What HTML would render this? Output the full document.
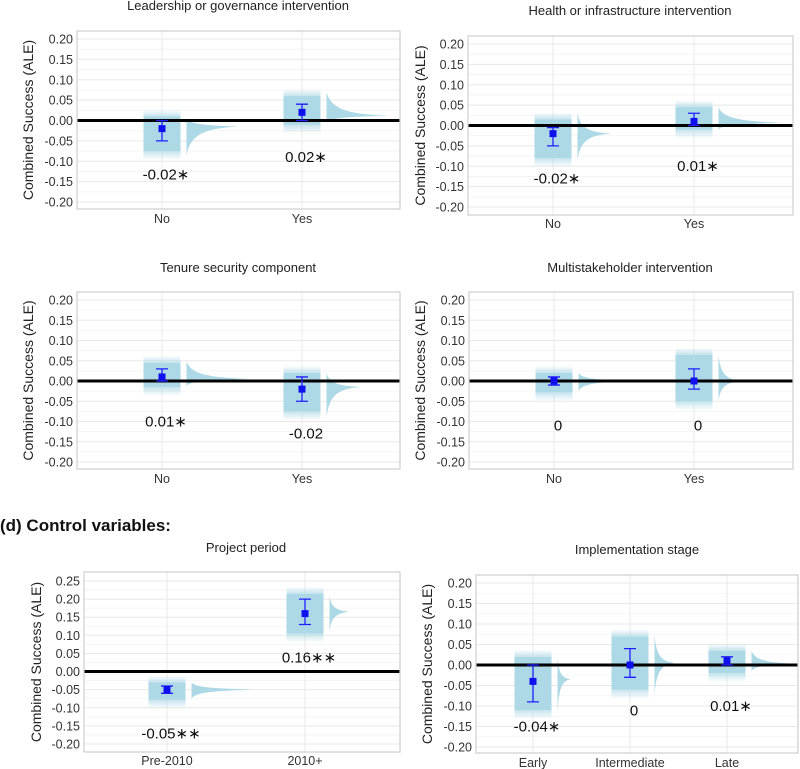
<!DOCTYPE html>
<html><head><meta charset="utf-8"><style>
html,body{margin:0;padding:0;background:#fff;}
svg{display:block;font-family:"Liberation Sans",Arial,sans-serif;}
</style></head><body>
<svg id="chart" width="800" height="769" viewBox="0 0 800 769" xmlns="http://www.w3.org/2000/svg">
<defs>
<linearGradient id="fadeUp" x1="0" y1="1" x2="0" y2="0"><stop offset="0" stop-color="#add8e6" stop-opacity="0.7"/><stop offset="1" stop-color="#add8e6" stop-opacity="0"/></linearGradient>
<linearGradient id="fadeDown" x1="0" y1="0" x2="0" y2="1"><stop offset="0" stop-color="#add8e6" stop-opacity="0.7"/><stop offset="1" stop-color="#add8e6" stop-opacity="0"/></linearGradient>
</defs>
<text x="0" y="531" font-size="17" font-weight="bold" fill="#111">(d) Control variables:</text>
</svg>
<script>
// ---- data arrays ----
const ticksStd = [0.20, 0.15, 0.10, 0.05, 0.00, -0.05, -0.10, -0.15, -0.20];
const ticksPeriod = [0.25, 0.20, 0.15, 0.10, 0.05, 0.00, -0.05, -0.10, -0.15, -0.20];

const p1Cats = ["No", "Yes"];
const p1Est = [-0.02, 0.02];
const p1Lo = [-0.05, 0.00];
const p1Hi = [0.00, 0.04];
const p1BoxHi = [0.01, 0.06];
const p1BoxLo = [-0.075, -0.01];
const p1VioHi = [0.005, 0.07];
const p1VioLo = [-0.085, -0.005];
const p1VioPeak = [-0.015, 0.012];
const p1VioLen = [53, 62];
const p1Labels = ["-0.02\u2217", "0.02\u2217"];
const p1LabelPos = [-0.13, -0.087];

const p2Cats = ["No", "Yes"];
const p2Est = [-0.02, 0.01];
const p2Lo = [-0.05, 0.00];
const p2Hi = [-0.005, 0.03];
const p2BoxHi = [0.015, 0.045];
const p2BoxLo = [-0.08, -0.01];
const p2VioHi = [0.03, 0.045];
const p2VioLo = [-0.085, -0.01];
const p2VioPeak = [-0.02, 0.007];
const p2VioLen = [34, 63];
const p2Labels = ["-0.02\u2217", "0.01\u2217"];
const p2LabelPos = [-0.127, -0.097];

const p3Cats = ["No", "Yes"];
const p3Est = [0.01, -0.02];
const p3Lo = [0.00, -0.05];
const p3Hi = [0.03, 0.01];
const p3BoxHi = [0.045, 0.02];
const p3BoxLo = [-0.015, -0.075];
const p3VioHi = [0.048, 0.02];
const p3VioLo = [-0.012, -0.09];
const p3VioPeak = [0.005, -0.015];
const p3VioLen = [63, 34];
const p3Labels = ["0.01\u2217", "-0.02"];
const p3LabelPos = [-0.097, -0.127];

const p4Cats = ["No", "Yes"];
const p4Est = [0.00, 0.00];
const p4Lo = [-0.01, -0.02];
const p4Hi = [0.01, 0.03];
const p4BoxHi = [0.02, 0.065];
const p4BoxLo = [-0.028, -0.05];
const p4VioHi = [0.02, 0.065];
const p4VioLo = [-0.025, -0.05];
const p4VioPeak = [0.00, 0.00];
const p4VioLen = [50, 23];
const p4Labels = ["0", "0"];
const p4LabelPos = [-0.108, -0.108];

const p5Cats = ["Pre-2010", "2010+"];
const p5Est = [-0.05, 0.16];
const p5Lo = [-0.06, 0.13];
const p5Hi = [-0.04, 0.20];
const p5BoxHi = [-0.03, 0.215];
const p5BoxLo = [-0.078, 0.105];
const p5VioHi = [-0.03, 0.21];
const p5VioLo = [-0.075, 0.11];
const p5VioPeak = [-0.05, 0.165];
const p5VioLen = [62, 20];
const p5Labels = ["-0.05\u2217\u2217", "0.16\u2217\u2217"];
const p5LabelPos = [-0.168, 0.042];

const p6Cats = ["Early", "Intermediate", "Late"];
const p6Est = [-0.04, 0.00, 0.01];
const p6Lo = [-0.09, -0.03, 0.00];
const p6Hi = [0.00, 0.04, 0.02];
const p6BoxHi = [0.02, 0.07, 0.035];
const p6BoxLo = [-0.11, -0.06, -0.02];
const p6VioHi = [0.02, 0.075, 0.035];
const p6VioLo = [-0.12, -0.075, -0.015];
const p6VioPeak = [-0.035, 0.005, 0.003];
const p6VioLen = [13, 20, 44];
const p6Labels = ["-0.04\u2217", "0", "0.01\u2217"];
const p6LabelPos = [-0.147, -0.108, -0.097];

// ---- layout ----
const panels = [
 {name:"leadership", title:"Leadership or governance intervention", titleX:238, titleY:10, L:77,R:400,T:31,B:209, vTop:0.20, yTop:39, vBot:-0.20, yBot:202, catX:[162,302], ticks:ticksStd, labY:223, ytX:28,
  d:{cats:p1Cats,est:p1Est,lo:p1Lo,hi:p1Hi,bh:p1BoxHi,bl:p1BoxLo,vh:p1VioHi,vl:p1VioLo,vp:p1VioPeak,vlen:p1VioLen,lab:p1Labels,lp:p1LabelPos}},
 {name:"health", title:"Health or infrastructure intervention", titleX:630, titleY:15, L:468,R:793,T:36,B:215, vTop:0.20, yTop:44, vBot:-0.20, yBot:207, catX:[553,694], ticks:ticksStd, labY:228, ytX:420,
  d:{cats:p2Cats,est:p2Est,lo:p2Lo,hi:p2Hi,bh:p2BoxHi,bl:p2BoxLo,vh:p2VioHi,vl:p2VioLo,vp:p2VioPeak,vlen:p2VioLen,lab:p2Labels,lp:p2LabelPos}},
 {name:"tenure", title:"Tenure security component", titleX:238, titleY:272, L:77,R:400,T:292,B:469, vTop:0.20, yTop:300, vBot:-0.20, yBot:462, catX:[162,302], ticks:ticksStd, labY:483, ytX:28,
  d:{cats:p3Cats,est:p3Est,lo:p3Lo,hi:p3Hi,bh:p3BoxHi,bl:p3BoxLo,vh:p3VioHi,vl:p3VioLo,vp:p3VioPeak,vlen:p3VioLen,lab:p3Labels,lp:p3LabelPos}},
 {name:"multistakeholder", title:"Multistakeholder intervention", titleX:630, titleY:272, L:469,R:793,T:292,B:469, vTop:0.20, yTop:300, vBot:-0.20, yBot:462, catX:[554,694], ticks:ticksStd, labY:483, ytX:420,
  d:{cats:p4Cats,est:p4Est,lo:p4Lo,hi:p4Hi,bh:p4BoxHi,bl:p4BoxLo,vh:p4VioHi,vl:p4VioLo,vp:p4VioPeak,vlen:p4VioLen,lab:p4Labels,lp:p4LabelPos}},
 {name:"project-period", title:"Project period", titleX:246, titleY:552, L:84,R:400,T:572,B:752, vTop:0.25, yTop:581, vBot:-0.20, yBot:744, catX:[167,305], ticks:ticksPeriod, labY:765, ytX:36,
  d:{cats:p5Cats,est:p5Est,lo:p5Lo,hi:p5Hi,bh:p5BoxHi,bl:p5BoxLo,vh:p5VioHi,vl:p5VioLo,vp:p5VioPeak,vlen:p5VioLen,lab:p5Labels,lp:p5LabelPos}},
 {name:"implementation-stage", title:"Implementation stage", titleX:637, titleY:554, L:476,R:798,T:575,B:753, vTop:0.20, yTop:583, vBot:-0.20, yBot:747, catX:[533,630,727], ticks:ticksStd, labY:767, ytX:427,
  d:{cats:p6Cats,est:p6Est,lo:p6Lo,hi:p6Hi,bh:p6BoxHi,bl:p6BoxLo,vh:p6VioHi,vl:p6VioLo,vp:p6VioPeak,vlen:p6VioLen,lab:p6Labels,lp:p6LabelPos}}
];

const NS = "http://www.w3.org/2000/svg";
const svg = document.getElementById("chart");
function mk(tag, attrs, parent){
  const e = document.createElementNS(NS, tag);
  for (const k in attrs) e.setAttribute(k, attrs[k]);
  (parent||svg).appendChild(e);
  return e;
}

panels.forEach(p => {
  const g = mk("g", {});
  
  
  const y = v => p.yTop + (p.vTop - v) * (p.yBot - p.yTop) / (p.vTop - p.vBot);

  const t = mk("text", {x:p.titleX, y:p.titleY, "font-size":13, fill:"#222", "text-anchor":"middle"}, g);
  t.textContent = p.title;
  
  

  for (let v = p.vTop + 0.025; v > p.vBot - 0.03; v -= 0.05) {
    const yy = y(v);
    if (yy < p.T || yy > p.B) continue;
    const ln = mk("line", {x1:p.L, x2:p.R, y1:yy, y2:yy, stroke:"#f3f3f3", "stroke-width":0.8}, g);
    
    
  }
  p.ticks.forEach(v => {
    const yy = y(v);
    const ln = mk("line", {x1:p.L, x2:p.R, y1:yy, y2:yy, stroke:"#e8e8e8", "stroke-width":1}, g);
    
    
    const tx = mk("text", {x:p.L - 4, y:yy + 4.5, "font-size":12.5, fill:"#333", "text-anchor":"end"}, g);
    tx.textContent = v.toFixed(2);
    
    
  });
  p.d.cats.forEach((c, i) => {
    const x = p.catX[i];
    const ln = mk("line", {x1:x, x2:x, y1:p.T, y2:p.B, stroke:"#e8e8e8", "stroke-width":1}, g);
    
    
    const tx = mk("text", {x:x, y:p.labY, "font-size":12.5, fill:"#333", "text-anchor":"middle"}, g);
    tx.textContent = c;
    
    
  });
  const cy = (p.T + p.B) / 2;
  const yt = mk("text", {x:p.ytX, y:cy, "font-size":14, fill:"#222", "text-anchor":"middle", transform:`rotate(-90 ${p.ytX} ${cy})`, dy:5}, g);
  yt.textContent = "Combined Success (ALE)";
  
  

  const d = p.d;
  d.cats.forEach((c, i) => {
    const x = p.catX[i];
    const bw = 37;
    const bx = x - bw/2;
    const top = y(d.bh[i]), bot = y(d.bl[i]);
    const fa = mk("rect", {x:bx, y:top - 7, width:bw, height:7, fill:"url(#fadeUp)"}, g);
    
    
    const fb = mk("rect", {x:bx, y:bot, width:bw, height:9, fill:"url(#fadeDown)"}, g);
    
    
    const bx1 = mk("rect", {x:bx, y:top, width:bw, height:bot - top, fill:"#add8e6"}, g);
    
    

    const vx = bx + bw + 6;
    const vt = y(d.vh[i]), vb = y(d.vl[i]), vp = y(d.vp[i]);
    const L = d.vlen[i];
    const path = `M${vx},${vt} C${vx+L*0.08},${vt+(vp-vt)*0.75} ${vx+L*0.35},${vp-1.5} ${vx+L},${vp} C${vx+L*0.35},${vp+1.5} ${vx+L*0.08},${vb-(vb-vp)*0.75} ${vx},${vb} Z`;
    const vio = mk("path", {d:path, fill:"#add8e6"}, g);
    
    

    const lb = mk("text", {x:x + 4, y:y(d.lp[i]) + 6, "font-size":15, fill:"#111", "text-anchor":"middle"}, g);
    lb.textContent = d.lab[i];
    
    
  });

  const z = mk("line", {x1:p.L, x2:p.R, y1:y(0), y2:y(0), stroke:"#000", "stroke-width":3}, g);
  
  

  d.cats.forEach((c, i) => {
    const x = p.catX[i];
    const eb = mk("path", {d:`M${x-6},${y(d.hi[i])}H${x+6}M${x},${y(d.hi[i])}V${y(d.lo[i])}M${x-6},${y(d.lo[i])}H${x+6}`, stroke:"#2020ff", "stroke-width":1.3, fill:"none"}, g);
    
    
    const pt = mk("rect", {x:x-3.5, y:y(d.est[i])-3.5, width:7, height:7, fill:"#1010ee"}, g);
    
    
  });

  const bd = mk("rect", {x:p.L, y:p.T, width:p.R - p.L, height:p.B - p.T, fill:"none", stroke:"#cfcfcf", "stroke-width":1.2}, g);
  
  
});
</script>
</body></html>
